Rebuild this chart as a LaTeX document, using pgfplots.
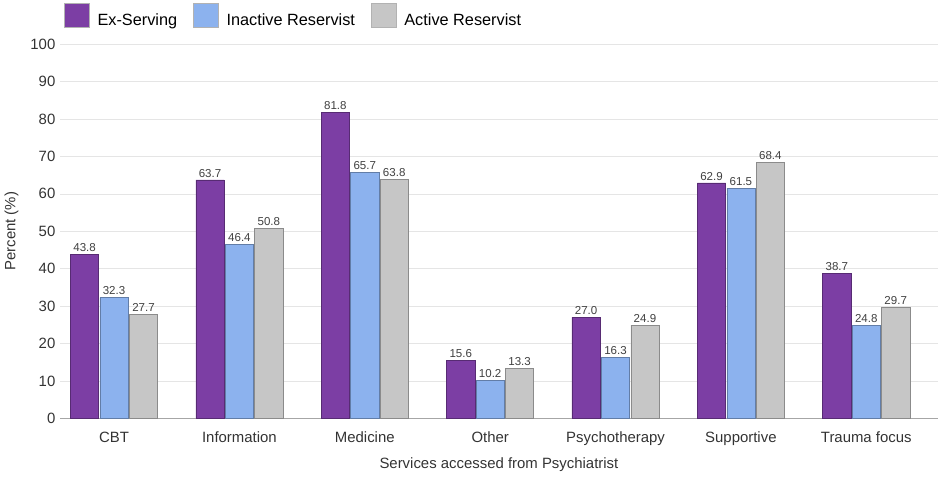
\documentclass[border=0pt]{standalone}
\usepackage{pgfplots}
\pgfplotsset{compat=1.18}
\usepackage{fontspec}
\setmainfont{Liberation Sans}
\definecolor{exs}{RGB}{124,62,164}
\definecolor{inact}{RGB}{140,178,238}
\definecolor{act}{RGB}{198,198,198}
\begin{document}
\begin{tikzpicture}
\begin{axis}[
  scale only axis, width=647pt, height=276pt,
  ybar=0.9pt, bar width=0.225,
  xmin=-0.43, xmax=6.57, ymin=0, ymax=100,
  ytick={0,10,...,100},
  xtick={0,...,6},
  xticklabels={CBT,Information,Medicine,Other,Psychotherapy,Supportive,Trauma focus},
  ymajorgrids, grid style={gray!20},
  axis x line*=bottom, axis y line*=left,
  x axis line style={gray!70}, y axis line style={draw=none},
  tick label style={font=\fontsize{11}{13}\selectfont, text=black!80},
  /pgf/number format/assume math mode=true,
  ytick style={draw=none}, xtick style={draw=none},
  xticklabel style={yshift=-2pt},
  ylabel={Percent (\%)}, xlabel={Services accessed from Psychiatrist},
  label style={font=\fontsize{11}{13}\selectfont, text=black!80},
  ylabel style={yshift=2pt},
  xlabel style={yshift=-2pt},
  nodes near coords, point meta=explicit symbolic,
  every node near coord/.append style={font=\fontsize{8.5}{10}\selectfont, text=black!75, yshift=-1.5pt},
  legend style={at={(0,1)}, anchor=south west, xshift=0pt, yshift=8pt, draw=none, fill=none,
    legend columns=3, font=\fontsize{12}{14}\selectfont,
    /tikz/every odd column/.append style={column sep=4pt},
    /tikz/every even column/.append style={column sep=10pt}},
  legend image code/.code={\draw[#1, draw=gray!60] (0pt,-5pt) rectangle (18pt,13pt);},
]
\addplot[fill=exs, draw=exs!70!black] coordinates
  {(0,43.8)[43.8] (1,63.7)[63.7] (2,81.8)[81.8] (3,15.6)[15.6] (4,27.0)[27.0] (5,62.9)[62.9] (6,38.7)[38.7]};
\addplot[fill=inact, draw=inact!70!black] coordinates
  {(0,32.3)[32.3] (1,46.4)[46.4] (2,65.7)[65.7] (3,10.2)[10.2] (4,16.3)[16.3] (5,61.5)[61.5] (6,24.8)[24.8]};
\addplot[fill=act, draw=act!70!black] coordinates
  {(0,27.7)[27.7] (1,50.8)[50.8] (2,63.8)[63.8] (3,13.3)[13.3] (4,24.9)[24.9] (5,68.4)[68.4] (6,29.7)[29.7]};
\legend{Ex-Serving, Inactive Reservist, Active Reservist}
\end{axis}
\end{tikzpicture}
\end{document}
